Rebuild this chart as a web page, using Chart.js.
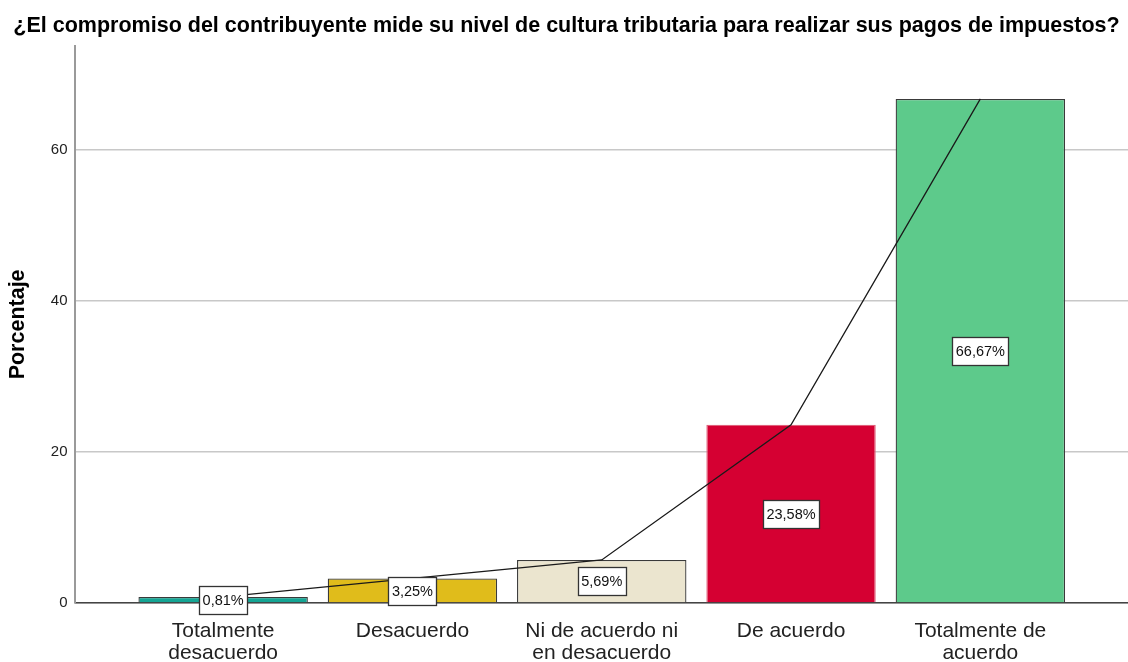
<!DOCTYPE html>
<html>
<head>
<meta charset="utf-8">
<script src="https://cdn.jsdelivr.net/npm/chart.js@4"></script>
<style>
  html, body { margin: 0; padding: 0; background: #fff; }
  #wrap { width: 1128px; height: 662px; position: relative; }
</style>
</head>
<body>
<div id="wrap"><canvas id="miGrafico"></canvas></div>
<script>
// datos
const categorias = [
    ['Totalmente', 'desacuerdo'],
    ['Desacuerdo'],
    ['Ni de acuerdo ni', 'en desacuerdo'],
    ['De acuerdo'],
    ['Totalmente de', 'acuerdo']
];
const porcentajes = [0.81, 3.25, 5.69, 23.58, 66.67];
const etiquetas = ['0,81%', '3,25%', '5,69%', '23,58%', '66,67%'];
const colores = ['#14a594', '#e0bc1b', '#ebe5cf', '#d50032', '#5dca8b'];
const bordes = ['#3a3a3a', '#3a3a3a', '#3a3a3a', '#e0607a', '#3a3a3a'];
const ticksY = [0, 20, 40, 60];

const puntos = porcentajes.map((v, i) => ({ x: i, y: v }));

// cajas con el porcentaje en la mitad de cada barra
const etiquetasPlugin = {
    id: 'etiquetas',
    afterDatasetsDraw(chart) {
        const ctx = chart.ctx;
        const xs = chart.scales.x;
        const ys = chart.scales.y;
        ctx.save();
        ctx.font = '14.5px "Liberation Sans", Arial, sans-serif';
        ctx.textAlign = 'center';
        ctx.textBaseline = 'middle';
        porcentajes.forEach((v, i) => {
            const cx = xs.getPixelForValue(i);
            const cy = ys.getPixelForValue(v / 2);
            const w = Math.round(ctx.measureText(etiquetas[i]).width + 7);
            const h = 28;
            const x0 = Math.round(cx - w / 2) + 0.5;
            const y0 = Math.round(cy - h / 2) + 0.5;
            ctx.fillStyle = '#ffffff';
            ctx.fillRect(x0, y0, w, h);
            ctx.strokeStyle = '#333333';
            ctx.lineWidth = 1.3;
            ctx.strokeRect(x0, y0, w, h);
            ctx.fillStyle = '#111111';
            ctx.fillText(etiquetas[i], cx, cy + 1);
        });
        ctx.restore();
    }
};

const ctx = document.getElementById('miGrafico').getContext('2d');

const myChart = new Chart(ctx, {
    data: {
        datasets: [
            {
                type: 'line',
                data: puntos,
                borderColor: '#1a1a1a',
                borderWidth: 1.3,
                pointRadius: 0,
                tension: 0,
                order: 0
            },
            {
                type: 'bar',
                data: puntos,
                backgroundColor: colores,
                borderColor: bordes,
                borderWidth: 1.3,
                categoryPercentage: 1,
                barPercentage: 0.895,
                order: 1
            }
        ]
    },
    options: {
        responsive: true,
        maintainAspectRatio: false,
        animation: false,
        layout: { padding: { left: 5, right: 0, top: 0, bottom: 0 } },
        plugins: {
            legend: { display: false },
            tooltip: { enabled: false },
            title: {
                display: true,
                text: '¿El compromiso del contribuyente mide su nivel de cultura tributaria para realizar sus pagos de impuestos?',
                color: '#000',
                font: { family: '"Liberation Sans", Arial, sans-serif', size: 21.5, weight: 'bold' },
                padding: { top: 13, bottom: 7 }
            }
        },
        scales: {
            x: {
                type: 'linear',
                offset: false,
                min: -0.78,
                max: 4.78,
                afterBuildTicks: axis => {
                    axis.ticks = categorias.map((c, i) => ({ value: i }));
                },
                afterFit: axis => {
                    axis.height = 59;
                },
                ticks: {
                    autoSkip: false,
                    maxRotation: 0,
                    color: '#222',
                    padding: 17,
                    font: { family: '"Liberation Sans", Arial, sans-serif', size: 21, lineHeight: 1.05 },
                    callback: function (value) {
                        return categorias[value];
                    }
                },
                grid: { display: false, drawTicks: false },
                border: { color: '#444', width: 1.5 }
            },
            y: {
                min: 0,
                max: 73.7,
                afterBuildTicks: axis => {
                    axis.ticks = ticksY.map(v => ({ value: v }));
                },
                ticks: {
                    color: '#222',
                    padding: 8,
                    font: { family: '"Liberation Sans", Arial, sans-serif', size: 15 }
                },
                grid: { color: '#c8c8c8', lineWidth: 1.5, drawTicks: true, tickLength: 0 },
                border: { color: '#9a9a9a', width: 2 },
                title: {
                    display: true,
                    text: 'Porcentaje',
                    color: '#000',
                    font: { family: '"Liberation Sans", Arial, sans-serif', size: 21.5, weight: 'bold' },
                    padding: { top: 0, bottom: 12 }
                }
            }
        }
    },
    plugins: [etiquetasPlugin]
});
</script>
</body>
</html>
